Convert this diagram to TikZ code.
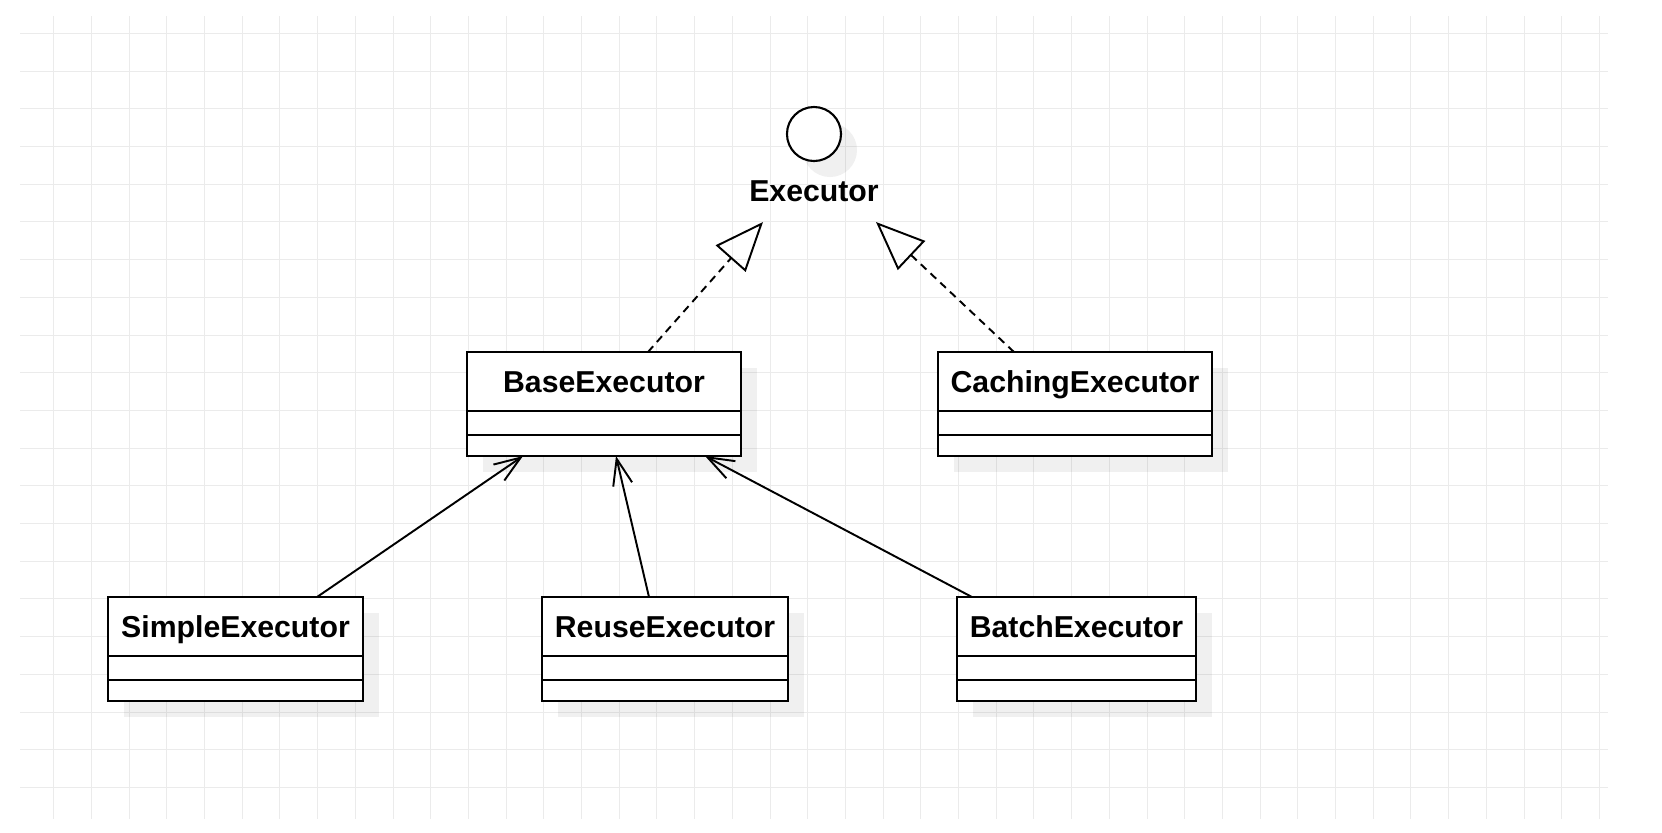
\documentclass[tikz,border=0pt]{standalone}
\usepackage{fontspec}
\setmainfont{Liberation Sans}
\usetikzlibrary{arrows.meta,backgrounds}
\definecolor{gridgray}{HTML}{EBEBEB}

\begin{document}
\begin{tikzpicture}[x=0.01cm,y=-0.01cm,
  head/.style={draw,line width=0.6pt,fill=white,inner sep=0pt,outer sep=0pt,minimum width=#1,minimum height=0.59cm,text height=0.22cm,text depth=0cm,font=\fontsize{8.6}{10}\selectfont\bfseries},
  midbox/.style={draw,line width=0.6pt,fill=white,inner sep=0pt,outer sep=0pt,minimum width=#1,minimum height=0.24cm,anchor=north},
  lowbox/.style={draw,line width=0.6pt,fill=white,inner sep=0pt,outer sep=0pt,minimum width=#1,minimum height=0.21cm,anchor=north},
  assoc/.style={line width=0.55pt,-{Straight Barb[length=7.5pt,width=5.5pt]}},
  realize/.style={line width=0.55pt,dash pattern=on 2.2pt off 1.6pt,-{Triangle[open,length=13.9pt,width=11.3pt]}},
  shade/.style={fill=black,opacity=0.06}]
\useasboundingbox (0,0) rectangle (1662,832);

% interface
\node[draw,circle,line width=0.6pt,fill=white,minimum size=0.54cm,inner sep=0pt] (exec) at (814,134) {};
\node[font=\fontsize{8.6}{10}\selectfont\bfseries,text height=0.22cm,text depth=0cm] (execlbl) at (814,190.7) {Executor};
\coordinate (execL) at (763,222);
\coordinate (execR) at (876,222);

% classes
\node[head=2.74cm] (base) at (604,381.5) {BaseExecutor};
\node[midbox=2.74cm] (basem) at (base.south) {};
\node[lowbox=2.74cm] (baseb) at (basem.south) {};

\node[head=2.74cm] (caching) at (1075,381.5) {CachingExecutor};
\node[midbox=2.74cm] (cachingm) at (caching.south) {};
\node[lowbox=2.74cm] (cachingb) at (cachingm.south) {};

\node[head=2.55cm] (simple) at (235.5,626.5) {SimpleExecutor};
\node[midbox=2.55cm] (simplem) at (simple.south) {};
\node[lowbox=2.55cm] (simpleb) at (simplem.south) {};

\node[head=2.46cm] (reuse) at (665,626.5) {ReuseExecutor};
\node[midbox=2.46cm] (reusem) at (reuse.south) {};
\node[lowbox=2.46cm] (reuseb) at (reusem.south) {};

\node[head=2.39cm] (batch) at (1076.5,626.5) {BatchExecutor};
\node[midbox=2.39cm] (batchm) at (batch.south) {};
\node[lowbox=2.39cm] (batchb) at (batchm.south) {};

% connectors
\draw[realize] ([xshift=0.44cm]base.north) -- (execL);
\draw[realize] ([xshift=-0.61cm]caching.north) -- (execR);
\draw[assoc] ([xshift=0.815cm]simple.north) -- ([xshift=-0.81cm]baseb.south);
\draw[assoc] ([xshift=-0.16cm]reuse.north) -- ([xshift=0.12cm]baseb.south);
\draw[assoc] ([xshift=-1.045cm]batch.north) -- ([xshift=1.01cm]baseb.south);

% grid and shadows
\begin{scope}[on background layer]
\foreach \k in {0,...,20}
  \draw[gridgray,line width=0.01cm] (20,{round(33+37.7*\k)+0.5}) -- (1608,{round(33+37.7*\k)+0.5});
\foreach \k in {0,...,41}
  \draw[gridgray,line width=0.01cm] ({round(53.3+37.7*\k)+0.5},16) -- ({round(53.3+37.7*\k)+0.5},819);
\fill[shade] ([shift={(16,16)}]exec.center) circle[radius=0.27cm];
\fill[shade] ([shift={(16,16)}]base.north west) rectangle ([shift={(16,16)}]baseb.south east);
\fill[shade] ([shift={(16,16)}]caching.north west) rectangle ([shift={(16,16)}]cachingb.south east);
\fill[shade] ([shift={(16,16)}]simple.north west) rectangle ([shift={(16,16)}]simpleb.south east);
\fill[shade] ([shift={(16,16)}]reuse.north west) rectangle ([shift={(16,16)}]reuseb.south east);
\fill[shade] ([shift={(16,16)}]batch.north west) rectangle ([shift={(16,16)}]batchb.south east);
\end{scope}

\end{tikzpicture}
\end{document}
